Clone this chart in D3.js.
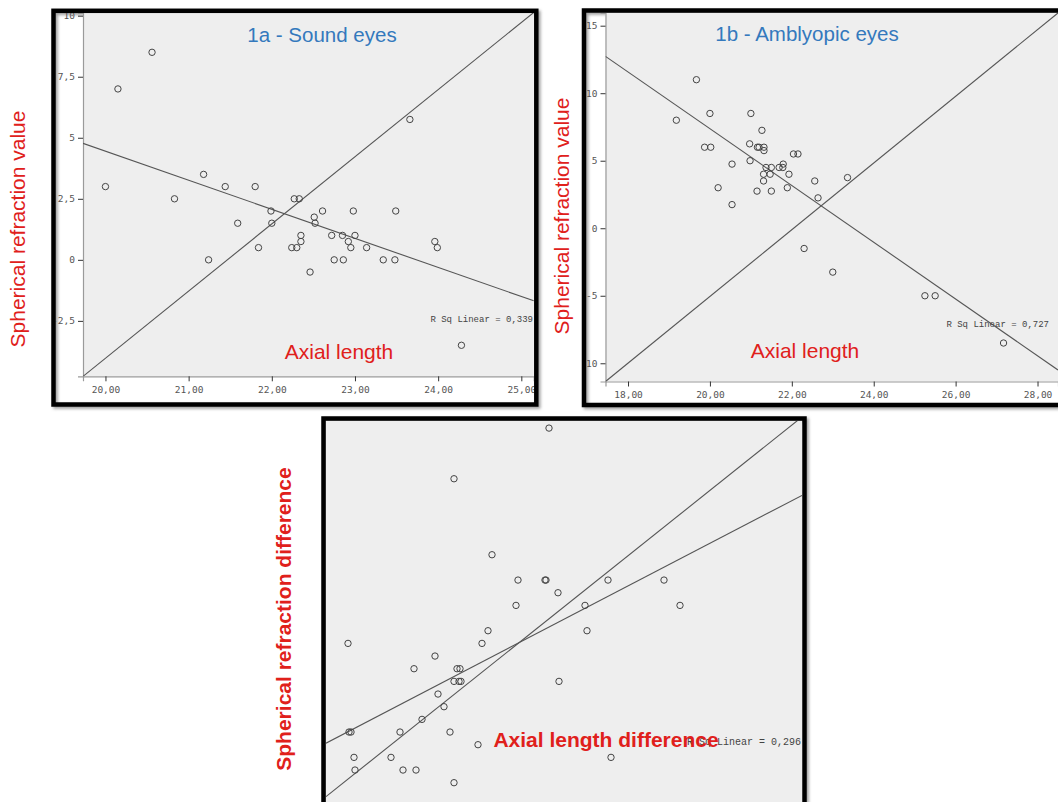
<!DOCTYPE html>
<html>
  <head>
    <meta charset="UTF-8" />
    <script src="https://d3js.org/d3.v7.min.js"></script>
    <style>
      body { margin: 0; background: #ffffff; }
    </style>
  </head>
  <body>
    <div id="my_dataviz"></div>
    <script>
      // 1a - sound eyes
      var soundAxial = [20.56, 20.15, 20.0, 20.83, 21.18, 21.24, 21.44, 21.59, 21.8, 21.84, 21.99, 22.0, 22.24, 22.27, 22.3, 22.33, 22.35, 22.35, 22.46, 22.51, 22.52, 22.61, 22.72, 22.75, 22.85, 22.86, 22.92, 22.95, 22.98, 23.0, 23.14, 23.34, 23.48, 23.49, 23.66, 23.96, 23.99, 24.28];
      var soundRefraction = [8.5, 7.0, 3.0, 2.5, 3.5, 0, 3.0, 1.5, 3.0, 0.5, 2.0, 1.5, 0.5, 2.5, 0.5, 2.5, 1.0, 0.75, -0.5, 1.75, 1.5, 2.0, 1.0, 0, 1.0, 0, 0.75, 0.5, 2.0, 1.0, 0.5, 0, 0, 2.0, 5.75, 0.75, 0.5, -3.5];

      // 1b - amblyopic eyes
      var amblyAxial = [19.67, 19.18, 20.0, 19.87, 20.02, 20.54, 20.2, 20.54, 21.0, 20.97, 21.27, 21.16, 21.2, 21.32, 21.32, 20.98, 21.31, 21.37, 21.5, 21.47, 21.31, 21.15, 21.5, 21.69, 21.79, 21.78, 21.93, 21.89, 22.04, 22.15, 22.56, 22.64, 23.36, 22.3, 23.0, 25.25, 25.5, 27.17];
      var amblyRefraction = [11.0, 8.0, 8.5, 6.0, 6.0, 4.75, 3.0, 1.75, 8.5, 6.25, 7.25, 6.0, 6.0, 6.0, 5.75, 5.0, 4.0, 4.5, 4.5, 4.0, 3.5, 2.75, 2.75, 4.5, 4.75, 4.5, 4.0, 3.0, 5.5, 5.5, 3.5, 2.25, 3.75, -1.5, -3.25, -5.0, -5.0, -8.5];

      // differences between the two eyes
      var diffAxial = [2.23, 1.28, 1.66, 1.92, 2.19, 2.2, 2.82, 3.38, 2.32, 1.9, 2.59, 3.54, 1.62, 2.61, 0.22, 1.56, 1.09, 0.88, 1.31, 1.34, 1.28, 1.33, 1.35, 2.33, 1.12, 1.18, 0.96, 0.23, 0.25, 0.74, 1.24, 1.52, 0.28, 0.65, 2.85, 0.29, 0.77, 0.9, 1.28];
      var diffRefraction = [14.0, 12.0, 9.0, 8.0, 8.0, 8.0, 8.0, 8.0, 7.5, 7.0, 7.0, 7.0, 6.0, 6.0, 5.5, 5.5, 5.0, 4.5, 4.5, 4.5, 4.0, 4.0, 4.0, 4.0, 3.5, 3.0, 2.5, 2.0, 2.0, 2.0, 2.0, 1.5, 1.0, 1.0, 1.0, 0.5, 0.5, 0.5, 0.0];

      // fit lines (y = intercept + slope * x) and corner diagonals
      var fitSlope = [-1.19, -2.102, 2.055];
      var fitIntercept = [28.25, 49.41, 1.56];
      var diagSlope = [2.75, 2.47, 3.149];
      var diagIntercept = [-59.03, -54.45, -0.55];
      var rSquared = ["0,339", "0,727", "0,296"];

      // tick values
      var xTicks1a = [20, 21, 22, 23, 24, 25];
      var yTicks1a = [-2.5, 0, 2.5, 5, 7.5, 10];
      var xTicks1b = [18, 20, 22, 24, 26, 28];
      var yTicks1b = [-10, -5, 0, 5, 10, 15];

      var red = "#e0201b",
        blue = "#3479bd",
        sans = "'Liberation Sans', Arial, sans-serif";

      var svg = d3
        .select("#my_dataviz")
        .append("svg")
        .attr("width", 1058)
        .attr("height", 802)
        .style("display", "block");

      var defs = svg.append("defs");
      defs
        .append("filter")
        .attr("id", "blur")
        .append("feGaussianBlur")
        .attr("stdDeviation", 1.5);

      var locale = d3.formatLocale({
        decimal: ",",
        thousands: ".",
        grouping: [3],
        currency: ["", ""],
        minus: "-",
      });
      var fmtX = locale.format(".2f");
      var fmtY = function (d) {
        return Number.isInteger(d) ? locale.format("d")(d) : locale.format(".1f")(d);
      };

      var frameWidth = 4.5;

      function drawPanel(p) {
        var g = svg.append("g");
        var f = p.frame;
        var half = frameWidth / 2;

        // clip to the inside of the frame, and to the plot area
        defs
          .append("clipPath")
          .attr("id", "inner-" + p.id)
          .append("rect")
          .attr("x", f[0] + half)
          .attr("y", f[1] + half)
          .attr("width", f[2] - frameWidth)
          .attr("height", f[3] - frameWidth);
        defs
          .append("clipPath")
          .attr("id", "plot-" + p.id)
          .append("rect")
          .attr("x", p.plot[0])
          .attr("y", p.plot[1])
          .attr("width", p.plot[2] - p.plot[0])
          .attr("height", p.plot[3] - p.plot[1]);

        var inner = g.append("g").attr("clip-path", "url(#inner-" + p.id + ")");

        inner
          .append("rect")
          .attr("x", p.plot[0])
          .attr("y", p.plot[1])
          .attr("width", p.plot[2] - p.plot[0])
          .attr("height", p.plot[3] - p.plot[1])
          .attr("fill", "#eeeeee");

        var x = d3.scaleLinear().domain(p.xDomain).range([p.plot[0], p.plot[2]]);
        var y = d3.scaleLinear().domain(p.yDomain).range([p.plot[3], p.plot[1]]);

        if (p.xTicks) {
          var xAxis = inner
            .append("g")
            .attr("transform", "translate(0," + p.plot[3] + ")")
            .call(d3.axisBottom(x).tickValues(p.xTicks).tickFormat(fmtX).tickSize(5).tickPadding(5));
          var yAxis = inner
            .append("g")
            .attr("transform", "translate(" + p.plot[0] + ",0)")
            .call(d3.axisLeft(y).tickValues(p.yTicks).tickFormat(fmtY).tickSize(5).tickPadding(3));
          [xAxis, yAxis].forEach(function (a) {
            a.select(".domain").attr("stroke", "#9a9a9a").attr("stroke-width", 1.2);
            a.selectAll(".tick line").attr("stroke", "#333");
            a.selectAll(".tick text")
              .attr("fill", "#555")
              .style("font-family", "'DejaVu Sans Mono', monospace")
              .style("font-size", "9.5px");
          });
        }

        var plotArea = inner.append("g").attr("clip-path", "url(#plot-" + p.id + ")");

        var line = d3
          .line()
          .x((d) => x(d[0]))
          .y((d) => y(d[1]));
        [
          [p.fit[0], p.fit[1]],
          [p.diag[0], p.diag[1]],
        ].forEach(function (l) {
          var pts = p.xDomain.map((v) => [v, l[1] + l[0] * v]);
          plotArea
            .append("path")
            .attr("d", line(pts))
            .attr("fill", "none")
            .attr("stroke", "#555")
            .attr("stroke-width", 1.1);
        });

        plotArea
          .selectAll("circle")
          .data(p.xs)
          .join("circle")
          .attr("cx", (d) => x(d))
          .attr("cy", (d, i) => y(p.ys[i]))
          .attr("r", 3.2)
          .attr("fill", "none")
          .attr("stroke", "#444")
          .attr("stroke-width", 1);

        inner
          .append("text")
          .attr("x", p.rsq[0])
          .attr("y", p.rsq[1])
          .attr("text-anchor", "end")
          .attr("fill", "#444")
          .style("font-family", "'Liberation Mono', 'Courier New', monospace")
          .style("font-size", p.rsq[2] + "px")
          .text("R Sq Linear = " + p.r2);

        if (p.title) {
          inner
            .append("text")
            .attr("x", p.title[0])
            .attr("y", p.title[1])
            .attr("text-anchor", "middle")
            .attr("fill", blue)
            .style("font-family", sans)
            .style("font-size", "20.5px")
            .text(p.title[2]);
        }

        inner
          .append("text")
          .attr("x", p.xLabel[0])
          .attr("y", p.xLabel[1])
          .attr("text-anchor", "middle")
          .attr("fill", red)
          .style("font-family", sans)
          .style("font-size", "21px")
          .style("font-weight", p.bold ? "bold" : "normal")
          .text(p.xLabel[2]);

        // y label outside the frame
        svg
          .append("text")
          .attr("transform", "translate(" + p.yLabel[0] + "," + p.yLabel[1] + ") rotate(-90)")
          .attr("text-anchor", "middle")
          .attr("fill", red)
          .style("font-family", sans)
          .style("font-size", "21px")
          .style("font-weight", p.bold ? "bold" : "normal")
          .text(p.yLabel[2]);

        // frame with a soft shadow
        g.insert("rect", ":first-child")
          .attr("x", f[0] + 2)
          .attr("y", f[1] + 2)
          .attr("width", f[2])
          .attr("height", f[3])
          .attr("fill", "none")
          .attr("stroke", "#a0a0a0")
          .attr("stroke-width", frameWidth)
          .attr("filter", "url(#blur)");
        g.append("rect")
          .attr("x", f[0])
          .attr("y", f[1])
          .attr("width", f[2])
          .attr("height", f[3])
          .attr("fill", "none")
          .attr("stroke", "#000")
          .attr("stroke-width", frameWidth);
      }

      drawPanel({
        id: "a",
        frame: [53.5, 10.8, 482.8, 393.7],
        plot: [83, 13, 533.8, 376.3],
        xDomain: [19.73, 25.15],
        yDomain: [-4.77, 10.11],
        xTicks: xTicks1a,
        yTicks: yTicks1a,
        xs: soundAxial,
        ys: soundRefraction,
        fit: [fitSlope[0], fitIntercept[0]],
        diag: [diagSlope[0], diagIntercept[0]],
        r2: rSquared[0],
        rsq: [533, 322, 9],
        title: [322, 42, "1a - Sound eyes"],
        xLabel: [339, 359, "Axial length"],
        yLabel: [25, 229, "Spherical refraction value"],
      });

      drawPanel({
        id: "b",
        frame: [584, 10.5, 490, 394.5],
        plot: [605.5, 13, 1058, 381.5],
        xDomain: [17.45, 28.5],
        yDomain: [-11.35, 15.94],
        xTicks: xTicks1b,
        yTicks: yTicks1b,
        xs: amblyAxial,
        ys: amblyRefraction,
        fit: [fitSlope[1], fitIntercept[1]],
        diag: [diagSlope[1], diagIntercept[1]],
        r2: rSquared[1],
        rsq: [1049, 327, 9],
        title: [807, 41, "1b - Amblyopic  eyes"],
        xLabel: [805, 358, "Axial length"],
        yLabel: [569, 216, "Spherical refraction value"],
      });

      drawPanel({
        id: "c",
        frame: [323.5, 418.5, 481, 420],
        plot: [326, 421, 802, 806],
        xDomain: [0, 4.76],
        yDomain: [-0.92, 14.28],
        xs: diffAxial,
        ys: diffRefraction,
        fit: [fitSlope[2], fitIntercept[2]],
        diag: [diagSlope[2], diagIntercept[2]],
        r2: rSquared[2],
        rsq: [801, 745, 10],
        xLabel: [606, 747, "Axial length difference"],
        yLabel: [291, 619, "Spherical refraction difference"],
        bold: true,
      });
    </script>
  </body>
</html>
